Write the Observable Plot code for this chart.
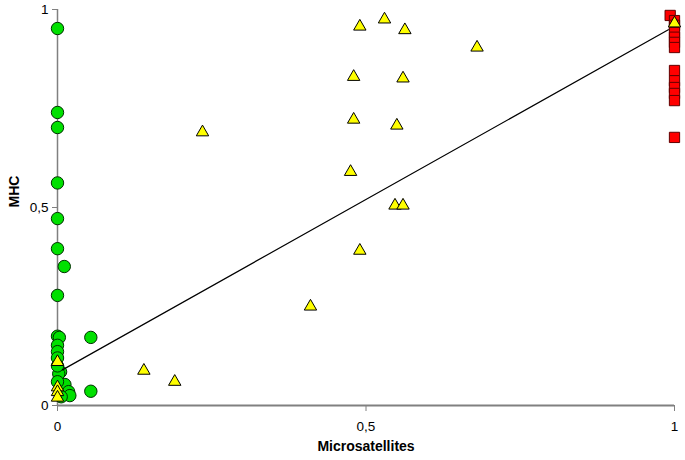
<!DOCTYPE html>
<html>
<head>
<meta charset="utf-8">
<script src="https://cdn.jsdelivr.net/npm/d3@7"></script>
<script src="https://cdn.jsdelivr.net/npm/@observablehq/plot@0.6"></script>
<style>
  body { margin: 0; background: #fff; }
  #chart svg { display: block; }
</style>
</head>
<body>
<div id="chart"></div>
<script>
// Green circles
const circleX = [0, 0, 0, 0, 0, 0, 0.011, 0, 0, 0.003, 0.054, 0, 0, 0, 0.005, 0.002, 0.012, 0.018, 0.02, 0.006, 0.054, 0, 0];
const circleY = [0.952, 0.74, 0.702, 0.562, 0.472, 0.396, 0.351, 0.278, 0.175, 0.172, 0.172, 0.152, 0.136, 0.12, 0.085, 0.08, 0.053, 0.035, 0.025, 0.022, 0.036, 0.06, 0.1];
// Yellow triangles
const triX = [0.14, 0.19, 0.235, 0.41, 0.475, 0.48, 0.48, 0.49, 0.53, 0.563, 0.56, 0.68, 0.55, 0.547, 0.56, 0.49, 1, 0, 0, 0, 0];
const triY = [0.088, 0.06, 0.69, 0.25, 0.59, 0.722, 0.83, 0.957, 0.975, 0.948, 0.826, 0.904, 0.707, 0.505, 0.505, 0.391, 0.965, 0.11, 0.046, 0.034, 0.02];
// Red squares
const sqX = [0.993, 1, 1, 1, 1, 1, 1, 1, 1, 1, 1, 1, 1];
const sqY = [0.985, 0.972, 0.96, 0.942, 0.93, 0.917, 0.904, 0.846, 0.82, 0.803, 0.788, 0.77, 0.677];
// Regression line endpoints
const fitX = [0.008, 0.99];
const fitY = [0.09, 0.949];
// Ticks
const tickValues = [0, 0.5, 1];
const tickLabels = ["0", "0,5", "1"];

const circles = circleX.map((x, i) => ({x, y: circleY[i]}));
const tris = triX.map((x, i) => ({x, y: triY[i]}));
const squares = sqX.map((x, i) => ({x, y: sqY[i]}));
const fit = fitX.map((x, i) => ({x, y: fitY[i]}));
const fmt = d => tickLabels[tickValues.indexOf(d)];

const plot = Plot.plot({
  width: 685,
  height: 460,
  marginLeft: 57,
  marginRight: 11,
  marginTop: 9,
  marginBottom: 55,
  style: {fontFamily: "'Liberation Sans', Arial, sans-serif", fontSize: "13px", color: "#000", background: "#fff"},
  x: {domain: [0, 1]},
  y: {domain: [0, 1]},
  marks: [
    Plot.ruleY([0], {stroke: "#808080", strokeWidth: 2}),
    Plot.ruleX([0], {stroke: "#808080", strokeWidth: 1.5}),
    Plot.axisX({ticks: tickValues, tickFormat: fmt, tickSize: 6, tickPadding: 10, stroke: "#808080", fontSize: 13.5, label: null}),
    Plot.axisY({ticks: tickValues, tickFormat: fmt, tickSize: 5, tickPadding: 4, stroke: "#808080", fontSize: 13.5, label: null}),
    Plot.dot(squares, {x: "x", y: "y", symbol: "square", r: 5.8, fill: "#ff0000", stroke: "#600000", strokeWidth: 1}),
    Plot.dot(circles, {x: "x", y: "y", symbol: "circle", r: 6.2, fill: "#00e000", stroke: "#003000", strokeWidth: 1}),
    Plot.dot(tris, {x: "x", y: "y", symbol: "triangle", r: 4.6, fill: "#ffff00", stroke: "#000", strokeWidth: 1}),
    Plot.line(fit, {x: "x", y: "y", stroke: "#000", strokeWidth: 1.2}),
    Plot.text(["Microsatellites"], {frameAnchor: "bottom", dy: 45, fontWeight: "bold", fontSize: 14}),
    Plot.text(["MHC"], {frameAnchor: "left", dx: -43, rotate: -90, fontWeight: "bold", fontSize: 14})
  ]
});
document.getElementById("chart").appendChild(plot);
</script>
</body>
</html>
